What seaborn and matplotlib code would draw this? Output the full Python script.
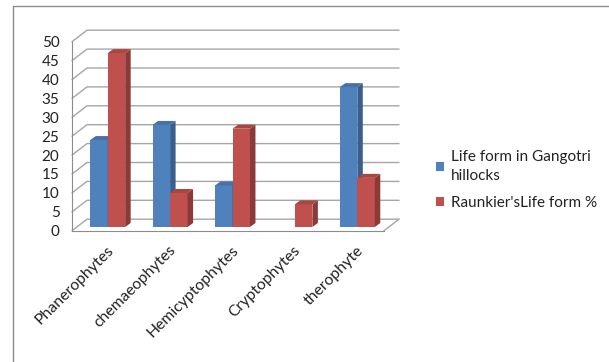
import matplotlib
matplotlib.use("Agg")
import matplotlib.pyplot as plt
import matplotlib.transforms as mtransforms
from matplotlib.lines import Line2D
from matplotlib.patches import Patch, Polygon
import numpy as np
import pandas as pd
import seaborn as sns

# --- data ---
categories = ["Phanerophytes", "chemaeophytes", "Hemicyptophytes", "Cryptophytes", "therophyte"]
gangotri = [23, 27, 11, 0, 37]
raunkier = [46, 9, 26, 6, 13]
series_names = ["Life form in Gangotri\nhillocks", "Raunkier'sLife form %"]
y_ticks = list(range(0, 55, 5))

# --- styling ---
front_colors = ["#4F81BD", "#C0504D"]
side_colors = ["#3A5F8D", "#8C3A38"]
top_colors = ["#4671A8", "#A94542"]
grid_color = "#A6A6A6"
axis_color = "#8C8C8C"
text_color = "#222222"
wall_dx, wall_dy = 15, 11.5      # depth of the fake 3d box, pixels
bar_front = (4.5, 3.7)           # bars sit a bit inside the floor
bar_depth = (5.5, 4.0)

df = pd.DataFrame({
    "category": categories * 2,
    "value": gangotri + raunkier,
    "series": [series_names[0]] * len(categories) + [series_names[1]] * len(categories),
})

sns.set_style("white")
plt.rcParams["font.family"] = ["Lato", "DejaVu Sans"]

W, H = 609, 362
fig = plt.figure(figsize=(W / 100, H / 100), dpi=100)
ax = fig.add_axes([72 / W, (H - 230.7) / H, 312 / W, 189 / H])

sns.barplot(data=df, x="category", y="value", hue="series", palette=front_colors,
            width=0.56, saturation=1, legend=False, ax=ax)
ax.set_xlim(-0.5, len(categories) - 0.5)
ax.set_ylim(0, 50)
ax.set_yticks(y_ticks)
ax.set_xlabel("")
ax.set_ylabel("")

# spines / ticks
for s in ["top", "right"]:
    ax.spines[s].set_visible(False)
for s in ["left", "bottom"]:
    ax.spines[s].set_color(axis_color)
    ax.spines[s].set_linewidth(0.8)
ax.tick_params(axis="y", length=4, color=axis_color, labelsize=11, pad=5, labelcolor=text_color)
ax.set_xticks(np.arange(-0.5, len(categories)), minor=True)
ax.tick_params(axis="x", which="major", length=0, labelsize=11.3, pad=9, labelcolor=text_color)
ax.tick_params(axis="x", which="minor", length=5, color=axis_color, width=0.8)
shift = mtransforms.ScaledTranslation(3 / 100, 0, fig.dpi_scale_trans)
for lab in ax.get_xticklabels():
    lab.set_rotation(45)
    lab.set_ha("right")
    lab.set_rotation_mode("anchor")
    lab.set_transform(lab.get_transform() + shift)

ident = mtransforms.IdentityTransform()

def px(x, y):
    return ax.transData.transform((x, y))

# back wall gridlines + left wall diagonals
x0, x1 = ax.get_xlim()
for v in y_ticks:
    a = px(x0, v)
    b = px(x1, v)
    ax.add_line(Line2D([a[0], a[0] + wall_dx, b[0] + wall_dx], [a[1], a[1] + wall_dy, b[1] + wall_dy],
                       transform=ident, color=grid_color, lw=1.0, zorder=1, clip_on=False))
# floor right edge
b = px(x1, 0)
ax.add_line(Line2D([b[0], b[0] + wall_dx], [b[1], b[1] + wall_dy], transform=ident,
                   color=grid_color, lw=1.0, zorder=1, clip_on=False))

# fake 3d bars: shift fronts, add side and top faces
n = len(categories)
front_tr = mtransforms.offset_copy(ax.transData, fig=fig, x=bar_front[0], y=bar_front[1], units="dots")
for i, patch in enumerate(ax.patches[: 2 * n]):
    k = i // n
    patch.set_transform(front_tr)
    patch.set_edgecolor("none")
    patch.set_clip_on(False)
    patch.set_zorder(3 + 2 * k)
    h = patch.get_height()
    if h <= 0:
        patch.set_visible(False)
        continue
    xl = patch.get_x()
    xr = xl + patch.get_width()
    tl = px(xl, h) + bar_front
    tr = px(xr, h) + bar_front
    br = px(xr, 0) + bar_front
    d = np.array(bar_depth)
    side = Polygon([br, tr, tr + d, br + d], closed=True, transform=ident,
                   facecolor=side_colors[k], edgecolor="none", zorder=3.5 + 2 * k, clip_on=False)
    top = Polygon([tl, tr, tr + d, tl + d], closed=True, transform=ident,
                  facecolor=top_colors[k], edgecolor="none", zorder=3.5 + 2 * k, clip_on=False)
    ax.add_patch(side)
    ax.add_patch(top)

# legend
handles = [Patch(facecolor=c, edgecolor="none") for c in front_colors]
leg = fig.legend(handles, series_names, loc="upper left", bbox_to_anchor=(422 / W, (H - 136) / H),
                 frameon=False, fontsize=11, handlelength=0.55, handleheight=0.55,
                 handletextpad=0.45, labelspacing=0.85, labelcolor=text_color)
for t in leg.get_texts():
    t.set_linespacing(1.5)

# outer chart frame (left and top edges visible)
fig.add_artist(Line2D([13 / W, 13 / W], [0, (H - 6) / H], transform=fig.transFigure,
                      color=axis_color, lw=1.0))
fig.add_artist(Line2D([13 / W, 1], [(H - 6) / H, (H - 6) / H], transform=fig.transFigure,
                      color=axis_color, lw=1.0))

fig.savefig("out.png", dpi=100)
